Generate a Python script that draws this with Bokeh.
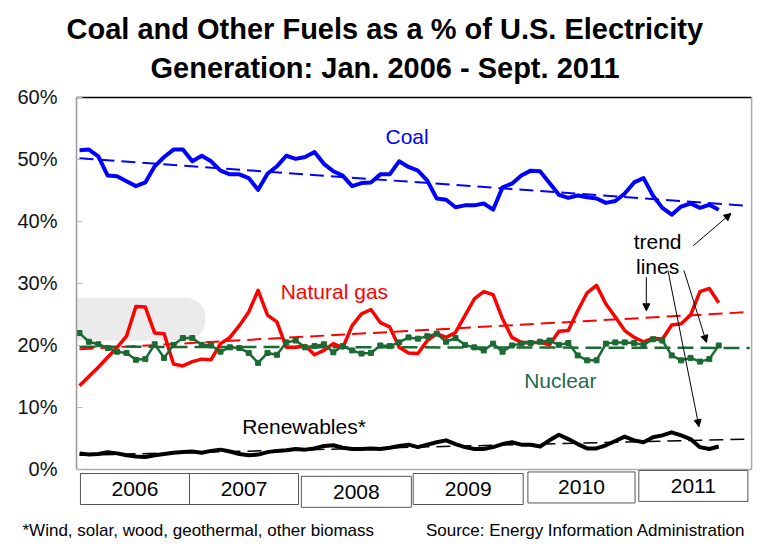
from bokeh.plotting import figure
from bokeh.models import (Range1d, FixedTicker, PrintfTickFormatter, Label, Arrow,
                          NormalHead, BoxAnnotation, ColumnDataSource, Title)
from bokeh.embed import file_html
from bokeh.resources import INLINE

# monthly shares of U.S. generation, Jan 2006 .. Sept 2011 (percent)
coal = [51.5, 51.6, 50.5, 47.4, 47.3, 46.5, 45.7, 46.3, 48.9, 50.4, 51.6, 51.6,
        49.7, 50.6, 49.7, 48.2, 47.6, 47.6, 47.0, 45.1, 47.7, 48.9, 50.6, 50.1,
        50.4, 51.2, 49.3, 48.1, 47.4, 45.7, 46.2, 46.3, 47.6, 47.6, 49.7, 48.8,
        48.2, 46.6, 43.7, 43.5, 42.3, 42.6, 42.6, 42.9, 41.9, 45.5, 46.1, 47.4,
        48.2, 48.1, 46.2, 44.3, 43.8, 44.2, 43.9, 43.7, 43.0, 43.3, 44.5, 46.3,
        47.0, 44.2, 42.2, 41.1, 42.4, 42.9, 42.2, 42.7, 41.9]
gas = [13.5, 15.0, 16.5, 18.1, 19.7, 21.5, 26.3, 26.2, 22.0, 21.9, 17.0, 16.7,
       17.4, 17.8, 17.7, 20.3, 21.3, 23.2, 25.4, 28.9, 24.9, 23.8, 19.7, 19.7,
       20.0, 18.5, 19.2, 20.3, 19.6, 23.2, 25.1, 25.8, 23.7, 23.0, 19.7, 18.8,
       18.7, 20.8, 21.9, 21.3, 22.1, 24.8, 27.5, 28.7, 28.2, 24.3, 21.3, 20.5,
       20.5, 20.5, 20.1, 22.3, 22.4, 25.6, 28.5, 29.7, 26.7, 24.6, 22.4, 21.3,
       20.6, 21.2, 21.0, 23.3, 23.5, 24.9, 28.7, 29.2, 26.9]
nuclear = [22.0, 20.6, 20.2, 19.6, 19.0, 18.8, 17.7, 17.8, 20.2, 18.0, 20.1, 21.2,
           21.2, 20.1, 20.0, 19.0, 19.7, 19.6, 18.8, 17.2, 18.8, 18.5, 20.5, 20.8,
           19.7, 19.9, 20.2, 18.9, 19.9, 19.2, 18.7, 18.8, 20.0, 19.9, 20.5, 21.3,
           21.1, 21.5, 21.9, 20.6, 21.2, 20.1, 19.7, 19.2, 20.3, 19.0, 20.0, 20.3,
           20.4, 20.6, 20.8, 20.1, 20.4, 18.4, 17.6, 17.6, 20.3, 20.5, 20.5, 20.4,
           20.1, 21.0, 20.8, 18.4, 17.6, 18.0, 17.4, 17.8, 20.0]
renewables = [2.6, 2.4, 2.5, 2.8, 2.6, 2.3, 2.1, 2.0, 2.3, 2.5, 2.7, 2.8,
              2.9, 2.7, 3.0, 3.2, 2.9, 2.5, 2.3, 2.4, 2.8, 3.0, 3.1, 3.3,
              3.2, 3.4, 3.8, 3.9, 3.5, 3.3, 3.3, 3.4, 3.3, 3.5, 3.8, 4.0,
              3.6, 4.0, 4.4, 4.7, 4.1, 3.6, 3.3, 3.3, 3.6, 4.1, 4.4, 4.0,
              4.0, 3.7, 4.7, 5.6, 4.9, 4.1, 3.4, 3.4, 3.9, 4.6, 5.3, 4.7,
              4.4, 5.2, 5.5, 6.0, 5.5, 4.9, 3.6, 3.3, 3.7]
months = list(range(len(coal)))

# trend lines: value at the first month and at the right edge of the chart
trend_months = [0, 71.3]
coal_trend = [50.2, 42.5]
gas_trend = [19.4, 25.4]
nuclear_trend = [19.8, 19.6]
renewables_trend = [2.3, 4.9]

years = ["2006", "2007", "2008", "2009", "2010", "2011"]
y_ticks = [0, 10, 20, 30, 40, 50, 60]

FONT = "Liberation Sans"
BLUE, RED, GREEN = "#0000ff", "#ff0000", "#1b6a33"

p = figure(frame_width=677, frame_height=418, output_backend="svg",
           toolbar_location=None,
           x_range=Range1d(-0.32, 71.7), y_range=Range1d(-7.1, 60.32),
           x_axis_location=None, min_border_left=76, min_border_right=12,
           min_border_top=95, min_border_bottom=32)
p.outline_line_color = None
p.grid.visible = False

# two-line title and footnote
p.add_layout(Title(text="Generation: Jan. 2006 - Sept. 2011", align="left",
                   offset=74, text_font=FONT, text_font_size="29px",
                   text_font_style="bold", text_color="black", standoff=23), "above")
p.add_layout(Title(text="Coal and Other Fuels as a % of U.S. Electricity",
                   align="left", offset=-10, text_font=FONT,
                   text_font_size="29px", text_font_style="bold",
                   text_color="black", standoff=-12), "above")
gap = "\u00a0" * 11
p.add_layout(Title(text="*Wind, solar, wood, geothermal, other biomass" + gap +
                   "Source: Energy Information Administration",
                   align="left", offset=-54, text_font=FONT, text_font_size="17px",
                   text_font_style="normal", text_color="black", standoff=10), "below")

ax = p.yaxis[0]
ax.bounds = (0, 60)
ax.ticker = FixedTicker(ticks=y_ticks)
ax.formatter = PrintfTickFormatter(format="%d%%")
ax.axis_line_color = "#999999"
ax.axis_line_width = 1.5
ax.major_tick_in = 6
ax.major_tick_out = 0
ax.major_tick_line_color = "#bbbbbb"
ax.minor_tick_line_color = None
ax.major_label_standoff = 19
ax.major_label_text_font = FONT
ax.major_label_text_font_size = "20px"
ax.major_label_text_color = "#111111"

# plot box
p.segment(x0=[-0.32], y0=[60], x1=[71.5], y1=[60], line_color="black", line_width=1.5)
p.segment(x0=[71.5, -0.32], y0=[0, 0], x1=[71.5, 71.5], y1=[60, 0],
          line_color="#aaaaaa", line_width=1.5)

# translucent band from the screen capture
p.add_layout(BoxAnnotation(left=-8.4, right=13.4, bottom=20.8, top=27.7,
                           fill_color="#e4e4e4", fill_alpha=0.75, line_alpha=0,
                           border_radius=20, level="underlay"))

# trend lines
p.line(trend_months, coal_trend, line_color=BLUE, line_width=2, line_dash="14 7")
p.line(trend_months, gas_trend, line_color=RED, line_width=2, line_dash="14 7")
p.line(trend_months, nuclear_trend, line_color=GREEN, line_width=2.5, line_dash="16 7")
p.line(trend_months, renewables_trend, line_color="black", line_width=1.5, line_dash="14 7")

src = ColumnDataSource(dict(m=months, coal=coal, gas=gas, nuc=nuclear, ren=renewables))
p.line("m", "coal", source=src, line_color=BLUE, line_width=4, line_join="round")
p.line("m", "gas", source=src, line_color=RED, line_width=3.5, line_join="round")
p.line("m", "nuc", source=src, line_color=GREEN, line_width=2.5)
p.scatter("m", "nuc", source=src, marker="square", size=5, color=GREEN)
p.line("m", "ren", source=src, line_color="black", line_width=4, line_join="round")

# year boxes under the plot
box_left = [0.1, 11.7, 23.6, 35.5, 47.7, 59.5]
box_right = [11.7, 23.3, 35.3, 47.2, 59.1, 71.1]
box_top = [-0.65, -0.65, -1.1, -0.65, -0.4, -0.15]
box_bottom = [t - 5.0 for t in box_top]
ysrc = ColumnDataSource(dict(l=box_left, r=box_right, t=box_top, b=box_bottom,
                             xc=[(a + b) / 2 for a, b in zip(box_left, box_right)],
                             yc=[t - 2.5 for t in box_top], year=years))
p.quad(left="l", right="r", top="t", bottom="b", source=ysrc,
       fill_color="white", line_color="#555555", line_width=1)
p.text(x="xc", y="yc", text="year", source=ysrc, text_align="center",
       text_baseline="middle", text_font_size="21px", text_color="black",
       text_font={"value": FONT})

def label(x, y, text, color, align="left"):
    p.add_layout(Label(x=x, y=y, text=text, text_color=color, text_font=FONT,
                       text_font_size="21px", text_align=align,
                       text_baseline="alphabetic"))

label(32.55, 53.7, "Coal", BLUE)
label(21.4, 28.7, "Natural gas", RED)
label(47.3, 14.3, "Nuclear", "#216b4f")
label(17.3, 6.9, "Renewables*", "black")
label(61.5, 36.7, "trend", "black", align="center")
label(61.5, 32.7, "lines", "black", align="center")

arrows = [((65.3, 36.1), (69.3, 41.3)), ((60.3, 31.0), (60.3, 25.6)),
          ((64.3, 32.1), (66.7, 20.5)), ((62.6, 32.1), (65.9, 6.9))]
for (xs, ys), (xe, ye) in arrows:
    p.add_layout(Arrow(x_start=xs, y_start=ys, x_end=xe, y_end=ye, line_width=1,
                       end=NormalHead(size=7, fill_color="black", line_color="black")))

open("out.html", "w").write(file_html(p, INLINE))
